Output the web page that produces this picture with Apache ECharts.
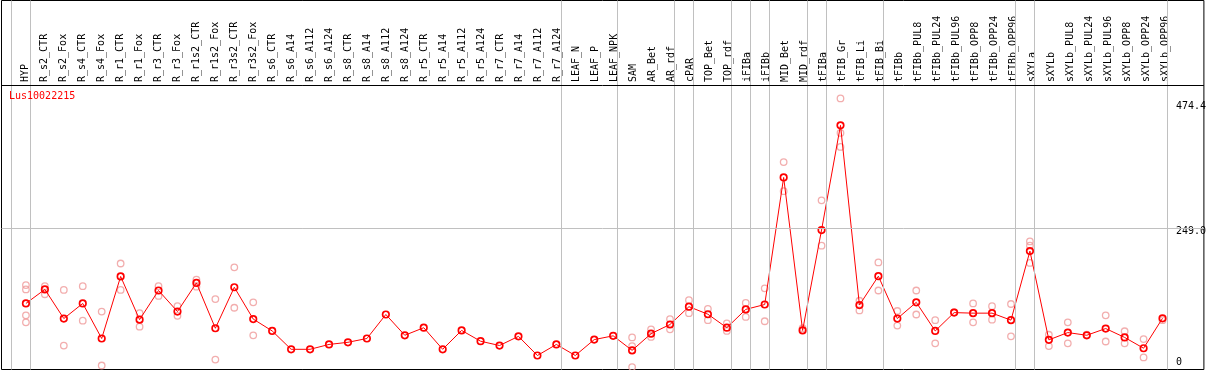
<!DOCTYPE html>
<html><head><meta charset="utf-8">
<script src="https://cdn.jsdelivr.net/npm/echarts@6/dist/echarts.min.js"></script>
<style>html,body{margin:0;padding:0;background:#fff}#c{width:1209px;height:370px}</style>
</head><body><div id="c"></div><script>
const geneId = 'Lus10022215';
const categories = ['HYP','R_s2_CTR','R_s2_Fox','R_s4_CTR','R_s4_Fox','R_r1_CTR','R_r1_Fox','R_r3_CTR','R_r3_Fox','R_r1s2_CTR','R_r1s2_Fox','R_r3s2_CTR','R_r3s2_Fox','R_s6_CTR','R_s6_A14','R_s6_A112','R_s6_A124','R_s8_CTR','R_s8_A14','R_s8_A112','R_s8_A124','R_r5_CTR','R_r5_A14','R_r5_A112','R_r5_A124','R_r7_CTR','R_r7_A14','R_r7_A112','R_r7_A124','LEAF_N','LEAF_P','LEAF_NPK','SAM','AR_Bet','AR_rdf','cPAR','TOP_Bet','TOP_rdf','iFIBa','iFIBb','MID_Bet','MID_rdf','tFIBa','tFIB_Gr','tFIB_Li','tFIB_Bi','tFIBb','tFIBb_PUL8','tFIBb_PUL24','tFIBb_PUL96','tFIBb_OPP8','tFIBb_OPP24','tFIBb_OPP96','sXYLa','sXYLb','sXYLb_PUL8','sXYLb_PUL24','sXYLb_PUL96','sXYLb_OPP8','sXYLb_OPP24','sXYLb_OPP96'];
const meanValues = [110,136,82,110,45,160,80,134,95,148,64,140,81,59,25,25,34,38,45,89.5,51,65,25,60,40,32,49,13.5,34,13.5,43,50,23,54,71,104,90,65,99,108,343.5,60,246,440,107,160.5,82,112,59,93,92,92,79,207,42.5,56,51,63.5,47,27,82.5];
const replicateValues = [
  [144,136,88,75],[142,127],[135,32],[142,78],[95,-5],[184,135],[92,67],[142,124],[105,87],[154,141],
  [118,6],[177,102],[112,51],[],[],[],[],[],[],[],
  [],[],[],[],[],[],[],[],[],[],
  [],[],[47,31,-8],[62,48],[81,62],[116,92],[100,79],[73,59],[111,85],[138,77],
  [372,318],[64],[301,217],[490,426,400],[115,97],[186,134],[96,69],[134,89.5],[79,36],[94],
  [110,75],[105,80],[109,49],[225,217,185],[52,31],[75,36],[52],[88,39.5],[58.5,36],[44,10],
  [79]
];
const yTickValues = [0, 249.0, 474.4];
const yTickLabels = ['0', '249.0', '474.4'];
const thresholdValue = 249.0;
const groupBreaksAfter = [-1,0,28,31,34,35,37,38,39,41,42,45,52,53,60];

const FONT = 'DejaVu Sans Mono';
const SEP_OFFSET = 0.2368;
const HEADER_LINE_VALUE = 513.9;

const repData = [];
replicateValues.forEach((arr, i) => arr.forEach(v => repData.push([i, v])));
const meanData = meanValues.map((v, i) => [i, v]);

const markData = groupBreaksAfter.map(i => ({ xAxis: i + SEP_OFFSET }));
markData.push({ yAxis: thresholdValue });
markData.push({ yAxis: HEADER_LINE_VALUE, lineStyle: { color: '#000000', width: 1, type: 'solid' } });

const chart = echarts.init(document.getElementById('c'), null, { renderer: 'canvas' });
chart.setOption({
  animation: false,
  title: {
    text: geneId, left: 9, top: 91, padding: 0,
    textStyle: { color: '#ff0000', fontSize: 10, fontFamily: FONT, fontWeight: 'normal' }
  },
  grid: [
    { left: 1.5, right: 1.5, top: 0.5, bottom: 0.5, show: true, borderColor: '#000000', borderWidth: 1, backgroundColor: 'transparent' },
    { left: 15.5, width: 1159, top: 85, height: 10, show: false }
  ],
  xAxis: [
    { type: 'value', gridIndex: 0, min: -1.2895, max: 62.184, show: false },
    { type: 'category', gridIndex: 1, position: 'top', data: categories, boundaryGap: true,
      axisLine: { show: false }, axisTick: { show: false }, splitLine: { show: false },
      axisLabel: { rotate: 90, margin: 3, interval: 0, fontFamily: FONT, fontSize: 10, color: '#000000' } }
  ],
  yAxis: [
    { type: 'value', gridIndex: 0, position: 'right', min: -12.42, max: 671.4,
      splitLine: { show: false }, axisLine: { show: false }, axisTick: { show: false },
      axisLabel: { inside: true, margin: 28, align: 'left', verticalAlign: 'middle', customValues: yTickValues,
        formatter: v => {
          const k = yTickValues.indexOf(v);
          if (k < 0) return '';
          return v === thresholdValue ? '{t|' + yTickLabels[k] + '}' : yTickLabels[k];
        },
        rich: { t: { padding: [5, 0, 0, 0], fontFamily: FONT, fontSize: 10, color: '#000000' } },
        fontFamily: FONT, fontSize: 10, color: '#000000' } },
    { type: 'value', gridIndex: 1, show: false }
  ],
  series: [
    { type: 'scatter', xAxisIndex: 0, yAxisIndex: 0, data: repData, symbol: 'circle', symbolSize: 6.5,
      itemStyle: { color: 'rgba(0,0,0,0)', borderColor: '#ef9a9a', borderWidth: 1.3 },
      markLine: { silent: true, symbol: ['none', 'none'], label: { show: false },
        lineStyle: { color: '#c0c0c0', width: 1, type: 'solid' }, data: markData } },
    { type: 'line', xAxisIndex: 0, yAxisIndex: 0, data: meanData, symbol: 'circle', symbolSize: 6.5, showAllSymbol: true,
      lineStyle: { color: '#ff0000', width: 1 },
      itemStyle: { color: 'rgba(0,0,0,0)', borderColor: '#ff0000', borderWidth: 1.7 } }
  ]
});
</script></body></html>
